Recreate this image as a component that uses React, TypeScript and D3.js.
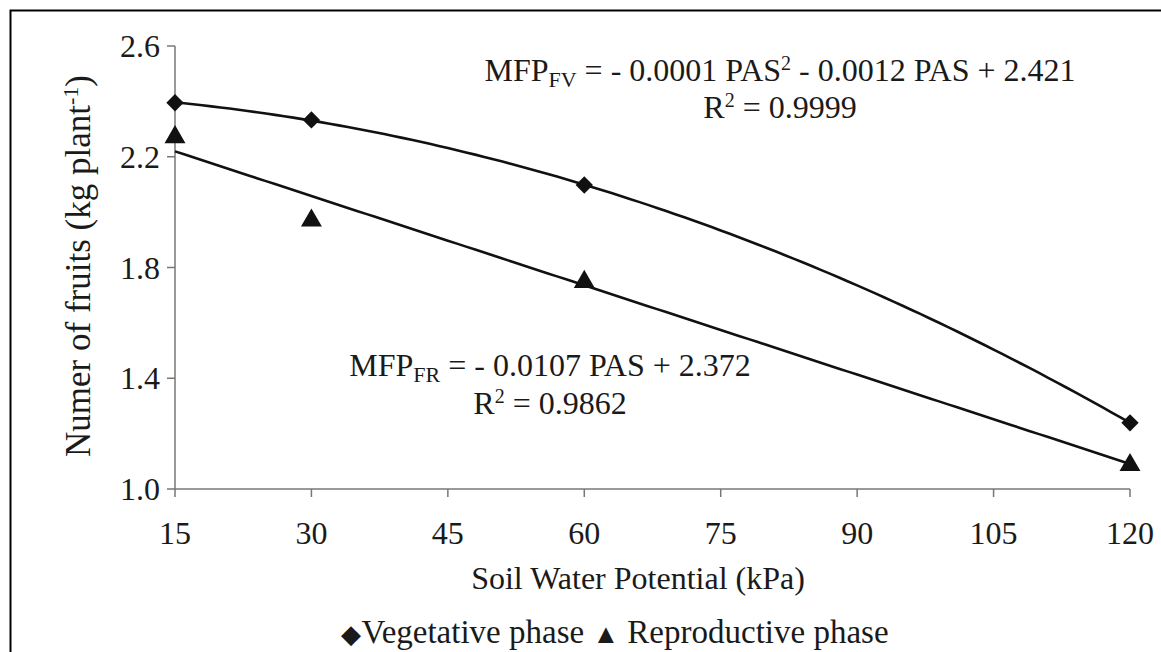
import React from 'react';
import * as d3 from 'd3';

// soil water potential (kPa) and fruit mass per plant (kg)
const potentials = [15, 30, 60, 120];
const vegetative = [2.395, 2.333, 2.098, 1.239];
const reproductive = [2.278, 1.977, 1.755, 1.094];
const xTicks = [15, 30, 45, 60, 75, 90, 105, 120];
const yTicks = [1.0, 1.4, 1.8, 2.2, 2.6];

const width = 1161;
const height = 652;
const margin = { top: 46, right: 31, bottom: 163, left: 175 };
const font = "'Liberation Serif', 'Times New Roman', Times, serif";

// least squares polynomial fit (degree 1 or 2)
function polyFit(xs: number[], ys: number[], deg: number): number[] {
  const n = deg + 1;
  const A: number[][] = [];
  for (let i = 0; i < n; i++) {
    const row: number[] = [];
    for (let j = 0; j < n; j++) row.push(d3.sum(xs, x => Math.pow(x, i + j)));
    row.push(d3.sum(xs, (x, k) => Math.pow(x, i) * ys[k]));
    A.push(row);
  }
  for (let c = 0; c < n; c++) {
    for (let r = c + 1; r < n; r++) {
      const f = A[r][c] / A[c][c];
      for (let k = c; k <= n; k++) A[r][k] -= f * A[c][k];
    }
  }
  const coef = new Array(n).fill(0);
  for (let r = n - 1; r >= 0; r--) {
    let s = A[r][n];
    for (let k = r + 1; k < n; k++) s -= A[r][k] * coef[k];
    coef[r] = s / A[r][r];
  }
  return coef;
}

const evalPoly = (c: number[], x: number) => c.reduce((acc, v, i) => acc + v * Math.pow(x, i), 0);

export default function App() {
  const x = d3.scaleLinear().domain([15, 120]).range([margin.left, width - margin.right]);
  const y = d3.scaleLinear().domain([1.0, 2.6]).range([height - margin.bottom, margin.top]);

  const vegFit = polyFit(potentials, vegetative, 2);
  const repFit = polyFit(potentials, reproductive, 1);
  const xs = d3.range(15, 120.5, 1);
  const vegPath = d3.line<number>().x(d => x(d)).y(d => y(evalPoly(vegFit, d)))(xs) || '';
  const repPath = d3.line<number>().x(d => x(d)).y(d => y(evalPoly(repFit, d)))(xs) || '';

  const diamond = d3.symbol().type(d3.symbolSquare).size(150)();
  const triangle = d3.symbol().type(d3.symbolTriangle).size(190)();
  const axisColor = '#7a7672';
  const x0 = x(15);
  const yBase = y(1.0);

  return (
    <svg width={width} height={height}
      style={{ position: 'absolute', left: 0, top: 0, background: '#fff', fontFamily: font }}
      fill="#1a1a1a">
      {/* frame */}
      <path d={`M10.5,${height} V10.5 H${width}`} fill="none" stroke="#000" strokeWidth={2} />

      {/* y axis */}
      <line x1={x0} x2={x0} y1={y(2.6)} y2={yBase} stroke={axisColor} strokeWidth={1.5} />
      {yTicks.map(t => (
        <g key={t}>
          <line x1={x0 - 8} x2={x0} y1={y(t)} y2={y(t)} stroke={axisColor} strokeWidth={1.5} />
          <text x={x0 - 15} y={y(t)} dy="0.35em" textAnchor="end" fontSize={32}>{t.toFixed(1)}</text>
        </g>
      ))}

      {/* x axis */}
      <line x1={x0} x2={x(120)} y1={yBase} y2={yBase} stroke={axisColor} strokeWidth={1.5} />
      {xTicks.map(t => (
        <g key={t}>
          <line x1={x(t)} x2={x(t)} y1={yBase} y2={yBase + 8} stroke={axisColor} strokeWidth={1.5} />
          <text x={x(t)} y={yBase + 55} textAnchor="middle" fontSize={32}>{t}</text>
        </g>
      ))}

      <text x={638} y={589} textAnchor="middle" fontSize={32}>Soil Water Potential (kPa)</text>
      <text transform="translate(90,266) rotate(-90)" textAnchor="middle" fontSize={35}>
        Numer of fruits (kg plant<tspan dy={-12} fontSize={22}>-1</tspan><tspan dy={12}>)</tspan>
      </text>

      {/* trend lines */}
      <path d={vegPath} fill="none" stroke="#111" strokeWidth={2.6} />
      <path d={repPath} fill="none" stroke="#111" strokeWidth={2.6} />

      {/* markers */}
      {potentials.map((p, i) => (
        <path key={'v' + p} d={diamond} transform={`translate(${x(p)},${y(vegetative[i])}) rotate(45)`} fill="#111" />
      ))}
      {potentials.map((p, i) => (
        <path key={'r' + p} d={triangle} transform={`translate(${x(p)},${y(reproductive[i]) + 2})`} fill="#111" />
      ))}

      {/* equations */}
      <text x={780} y={81} textAnchor="middle" fontSize={32}>
        MFP<tspan fontSize={22} dy={6}>FV</tspan><tspan dy={-6}> = - 0.0001 PAS</tspan>
        <tspan fontSize={20} dy={-11}>2</tspan><tspan dy={11}> - 0.0012 PAS + 2.421</tspan>
      </text>
      <text x={780} y={118} textAnchor="middle" fontSize={32}>
        R<tspan fontSize={20} dy={-11}>2</tspan><tspan dy={11}> = 0.9999</tspan>
      </text>
      <text x={550} y={376} textAnchor="middle" fontSize={32}>
        MFP<tspan fontSize={22} dy={6}>FR</tspan><tspan dy={-6}> = - 0.0107 PAS + 2.372</tspan>
      </text>
      <text x={550} y={414} textAnchor="middle" fontSize={32}>
        R<tspan fontSize={20} dy={-11}>2</tspan><tspan dy={11}> = 0.9862</tspan>
      </text>

      {/* legend */}
      <text x={615} y={643} textAnchor="middle" fontSize={33}>
        <tspan fontSize={26}>◆</tspan>Vegetative phase <tspan fontSize={27}>▲</tspan> Reproductive phase
      </text>
    </svg>
  );
}
